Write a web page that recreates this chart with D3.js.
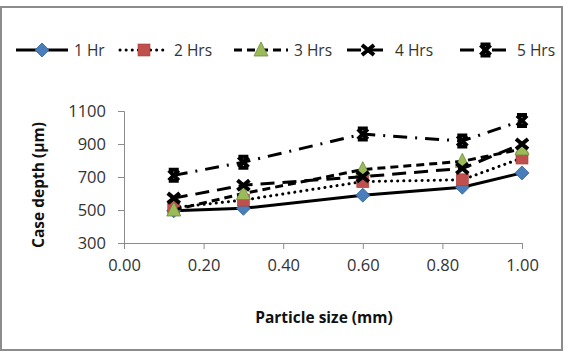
<!DOCTYPE html>
<html>
<head>
<meta charset="utf-8">
<script src="https://cdn.jsdelivr.net/npm/d3@7"></script>
<style>
  body { margin: 0; background: #fff; }
  svg { display: block; font-family: "Open Sans", Lato, sans-serif; }
</style>
</head>
<body>
<div id="container"></div>
<script>
// DATA
const particleSizes = [0.125, 0.3, 0.6, 0.85, 1.0];
const seriesNames = ["1 Hr", "2 Hrs", "3 Hrs", "4 Hrs", "5 Hrs"];
const hr1 = [495, 510, 590, 638, 725];
const hr2 = [515, 560, 672, 683, 815];
const hr3 = [500, 600, 745, 795, 870];
const hr4 = [572, 650, 702, 752, 900];
const hr5 = [710, 790, 960, 918, 1042];
const xTicks = [0, 0.2, 0.4, 0.6, 0.8, 1.0];
const yTicks = [300, 500, 700, 900, 1100];

const allSeries = [hr1, hr2, hr3, hr4, hr5];

// STYLES per series
const dashes = ["none", "0.1,6", "8,5", "14,8", "14,8,2,8"];
const markers = ["diamond", "square", "triangle", "cross", "star"];
const fills = ["#4a7ebb", "#c0504d", "#9bbb59", "#000", "#000"];

const width = 565, height = 352;
const margin = { top: 111, right: 43, bottom: 109, left: 124 };

const svg = d3.select("#container").append("svg")
  .attr("width", width).attr("height", height);

// frame
svg.append("rect")
  .attr("x", 1).attr("y", 7).attr("width", 561).attr("height", 343)
  .attr("fill", "#fff").attr("stroke", "#8c8c8c").attr("stroke-width", 2);

// SCALES
const x = d3.scaleLinear().domain([0, 1]).range([margin.left, width - margin.right]);
const y = d3.scaleLinear().domain([300, 1100]).range([height - margin.bottom, margin.top]);

// AXES
const xAxis = svg.append("g")
  .attr("transform", `translate(0,${height - margin.bottom})`)
  .call(d3.axisBottom(x).tickValues(xTicks).tickFormat(d3.format(".2f")).tickSize(6).tickPadding(10));
const yAxis = svg.append("g")
  .attr("transform", `translate(${margin.left},0)`)
  .call(d3.axisLeft(y).tickValues(yTicks).tickFormat(d3.format("d")).tickSize(6).tickPadding(12));

[xAxis, yAxis].forEach(g => {
  g.select(".domain").attr("stroke", "#8c8c8c");
  g.selectAll(".tick line").attr("stroke", "#8c8c8c");
  g.selectAll("text").attr("fill", "#333").style("font-size", "16.5px")
    .style("font-family", "'Open Sans', sans-serif");
});

// axis titles
svg.append("text")
  .attr("x", (margin.left + width - margin.right) / 2 + 1).attr("y", 323)
  .attr("text-anchor", "middle").attr("font-weight", "bold").attr("font-size", 15.5)
  .attr("fill", "#111").text("Particle size (mm)");
svg.append("text")
  .attr("transform", `translate(44,${185}) rotate(-90)`)
  .attr("text-anchor", "middle").attr("font-weight", "bold").attr("font-size", 15.5)
  .attr("fill", "#111").text("Case depth (µm)");

// MARKERS
function drawMarker(g, type, fill, cx, cy) {
  if (type === "diamond") {
    g.append("path").attr("d", `M${cx},${cy - 7}L${cx + 7},${cy}L${cx},${cy + 7}L${cx - 7},${cy}Z`)
      .attr("fill", fill).attr("stroke", "#2f5d94").attr("stroke-width", 0.8);
  } else if (type === "square") {
    g.append("rect").attr("x", cx - 6).attr("y", cy - 6).attr("width", 12).attr("height", 12)
      .attr("fill", fill).attr("stroke", "#a03c39").attr("stroke-width", 0.6);
  } else if (type === "triangle") {
    g.append("path").attr("d", `M${cx},${cy - 8}L${cx + 7},${cy + 6}L${cx - 7},${cy + 6}Z`)
      .attr("fill", fill).attr("stroke", "#6f8a3c").attr("stroke-width", 0.8);
  } else if (type === "cross") {
    g.append("path").attr("d", `M${cx - 6},${cy - 5}L${cx + 6},${cy + 5}M${cx + 6},${cy - 5}L${cx - 6},${cy + 5}`)
      .attr("stroke", "#000").attr("stroke-width", 4);
  } else {
    g.append("path").attr("d", `M${cx - 5},${cy - 5}L${cx + 5},${cy + 5}M${cx + 5},${cy - 5}L${cx - 5},${cy + 5}M${cx - 5},${cy - 5.5}L${cx + 5},${cy - 5.5}M${cx - 5},${cy + 5.5}L${cx + 5},${cy + 5.5}`)
      .attr("stroke", "#000").attr("stroke-width", 4);
  }
}

const line = d3.line().x((d, i) => x(particleSizes[i])).y(d => y(d));

allSeries.forEach((vals, s) => {
  const g = svg.append("g");
  g.append("path").datum(vals)
    .attr("d", line).attr("fill", "none").attr("stroke", "#000")
    .attr("stroke-width", 3).attr("stroke-linecap", s === 1 ? "round" : "butt")
    .attr("stroke-dasharray", dashes[s] === "none" ? null : dashes[s]);
  vals.forEach((v, i) => drawMarker(g, markers[s], fills[s], x(particleSizes[i]), y(v)));
});

// LEGEND
const legendX = [16, 120, 234, 347, 460];
const legendW = [52, 48, 54, 42, 51];
const legendY = 50;
seriesNames.forEach((name, s) => {
  const g = svg.append("g");
  const x0 = legendX[s], x1 = x0 + legendW[s];
  g.append("line").attr("x1", x0).attr("x2", x1).attr("y1", legendY).attr("y2", legendY)
    .attr("stroke", "#000").attr("stroke-width", 3)
    .attr("stroke-linecap", s === 1 ? "round" : "butt")
    .attr("stroke-dasharray", dashes[s] === "none" ? null : dashes[s]);
  drawMarker(g, markers[s], fills[s], (x0 + x1) / 2, legendY);
  g.append("text").attr("x", x1 + 6).attr("y", legendY + 5.5)
    .attr("font-size", 15.5).attr("fill", "#333").text(name);
});
</script>
</body>
</html>
